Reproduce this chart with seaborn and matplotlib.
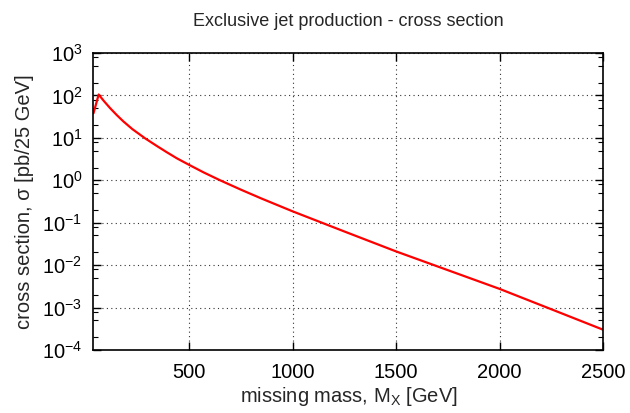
import matplotlib
matplotlib.use("Agg")
import matplotlib.pyplot as plt
import matplotlib.ticker as mticker
import seaborn as sns
import pandas as pd
import numpy as np

# Data
mass = [37.5, 62.5, 87.5, 118, 150, 181, 225, 286, 340, 391, 440, 500, 570, 649,
        750, 850, 1000, 1250, 1500, 1750, 2000, 2250, 2500]
sigma = [38, 105, 74, 50, 34.4, 24.6, 16.1, 9.8, 6.6, 4.6, 3.3, 2.3, 1.53, 1.0,
         0.6, 0.37, 0.185, 0.062, 0.021, 0.0076, 0.00275, 0.00091, 0.0003]

title = "Exclusive jet production - cross section"
xlabel = "missing mass, M$_\\mathrm{X}$ [GeV]"
ylabel = "cross section, \u03c3 [pb/25 GeV]"
xticks = [500, 1000, 1500, 2000, 2500]

sns.set_theme(style="ticks")
plt.rcParams["font.family"] = ["Liberation Sans", "DejaVu Sans"]
plt.rcParams["mathtext.fontset"] = "custom"
plt.rcParams["mathtext.rm"] = "Liberation Sans"
plt.rcParams["mathtext.it"] = "Liberation Sans:italic"
plt.rcParams["mathtext.bf"] = "Liberation Sans:bold"

df = pd.DataFrame({"mass": mass, "sigma": sigma})

fig = plt.figure(figsize=(6.3, 4.13), dpi=100)
ax = fig.add_axes([0.1484, 0.1525, 0.9575 - 0.1484, 0.8717 - 0.1525])

sns.lineplot(data=df, x="mass", y="sigma", ax=ax, color="#ff0000", linewidth=1.6)

ax.set_yscale("log")
ax.set_xlim(37.5, 2500)
ax.set_ylim(1e-4, 1e3)
ax.set_xticks(xticks)
ax.set_xticklabels([str(t) for t in xticks])
ax.yaxis.set_major_locator(mticker.LogLocator(base=10, numticks=20))
ax.yaxis.set_minor_locator(mticker.LogLocator(base=10, subs=[2.0, 5.0, 8.0], numticks=20))
ax.yaxis.set_minor_formatter(mticker.NullFormatter())

ax.tick_params(axis="both", which="both", direction="in", top=True, right=True,
               labelsize=14.5, colors="black")
ax.tick_params(axis="y", which="major", pad=8)
ax.tick_params(axis="x", which="major", pad=9)
ax.tick_params(axis="both", which="major", length=6, width=1.0)
ax.tick_params(axis="both", which="minor", length=3.5, width=0.8)

ax.grid(True, which="major", linestyle=(0, (1, 3)), color="#333333", linewidth=0.8)
for s in ax.spines.values():
    s.set_linewidth(1.2)
    s.set_color("black")

fig.text(0.5525, 1 - 22 / 413, title, fontsize=13, ha="center", va="center")
ax.set_xlabel(xlabel, fontsize=14.5)
ax.xaxis.set_label_coords(0.5, -(396 - 350) / 297)
ax.xaxis.label.set_va("center")
ax.set_ylabel(ylabel, fontsize=14.5)
ax.yaxis.set_label_coords((25 - 93.5) / 509.5, 0.5)
ax.yaxis.label.set_va("center")
ax.yaxis.label.set_ha("center")

fig.savefig("out.png", dpi=100)
